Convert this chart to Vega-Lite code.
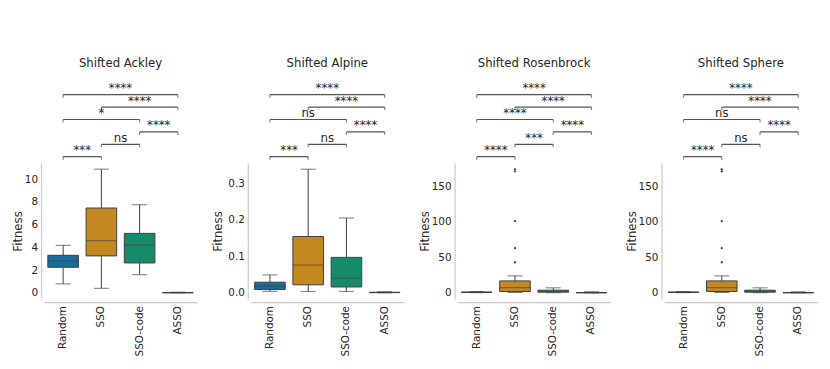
{
  "$schema": "https://vega.github.io/schema/vega-lite/v6.json",
  "background": "white",
  "padding": {"left": 12, "top": 58, "right": 5, "bottom": 5},
  "config": {
    "font": "DejaVu Sans",
    "view": {"stroke": null},
    "axis": {"grid": false, "ticks": false, "tickSize": 0, "labelOverlap": false, "domainColor": "#cccccc", "domainWidth": 1.25, "labelFontSize": 10.4, "titleFontSize": 11.7, "titleFontWeight": "normal", "labelColor": "#262626", "titleColor": "#262626", "labelFont": "DejaVu Sans", "titleFont": "DejaVu Sans"},
    "title": {"fontSize": 11.7, "fontWeight": "normal", "color": "#262626", "font": "DejaVu Sans"}
  },
  "datasets": {
    "boxes": [
      {"fn": "Shifted Ackley", "alg": "Random", "lower": 0.79, "q1": 2.25, "median": 2.81, "q3": 3.30, "upper": 4.18},
      {"fn": "Shifted Ackley", "alg": "SSO", "lower": 0.40, "q1": 3.25, "median": 4.59, "q3": 7.46, "upper": 10.88},
      {"fn": "Shifted Ackley", "alg": "SSO-code", "lower": 1.60, "q1": 2.63, "median": 4.21, "q3": 5.23, "upper": 7.75},
      {"fn": "Shifted Ackley", "alg": "ASSO", "lower": 0.0, "q1": 0.01, "median": 0.02, "q3": 0.03, "upper": 0.06},
      {"fn": "Shifted Alpine", "alg": "Random", "lower": 0.004, "q1": 0.009, "median": 0.018, "q3": 0.029, "upper": 0.049},
      {"fn": "Shifted Alpine", "alg": "SSO", "lower": 0.004, "q1": 0.022, "median": 0.076, "q3": 0.154, "upper": 0.338},
      {"fn": "Shifted Alpine", "alg": "SSO-code", "lower": 0.004, "q1": 0.016, "median": 0.040, "q3": 0.097, "upper": 0.2045},
      {"fn": "Shifted Alpine", "alg": "ASSO", "lower": 0.0, "q1": 0.0005, "median": 0.001, "q3": 0.0015, "upper": 0.003},
      {"fn": "Shifted Rosenbrock", "alg": "Random", "lower": 0.2, "q1": 0.5, "median": 0.8, "q3": 1.1, "upper": 1.8},
      {"fn": "Shifted Rosenbrock", "alg": "SSO", "lower": 0.5, "q1": 1.8, "median": 7.0, "q3": 16.8, "upper": 23.8},
      {"fn": "Shifted Rosenbrock", "alg": "SSO-code", "lower": 0.1, "q1": 0.9, "median": 2.0, "q3": 3.7, "upper": 7.0},
      {"fn": "Shifted Rosenbrock", "alg": "ASSO", "lower": 0.0, "q1": 0.1, "median": 0.2, "q3": 0.4, "upper": 1.5},
      {"fn": "Shifted Sphere", "alg": "Random", "lower": 0.2, "q1": 0.5, "median": 0.8, "q3": 1.1, "upper": 1.8},
      {"fn": "Shifted Sphere", "alg": "SSO", "lower": 0.5, "q1": 1.8, "median": 7.0, "q3": 16.8, "upper": 23.8},
      {"fn": "Shifted Sphere", "alg": "SSO-code", "lower": 0.1, "q1": 0.9, "median": 2.0, "q3": 3.7, "upper": 7.0},
      {"fn": "Shifted Sphere", "alg": "ASSO", "lower": 0.0, "q1": 0.1, "median": 0.2, "q3": 0.4, "upper": 1.5}
    ],
    "outliers": [
      {"fn": "Shifted Rosenbrock", "alg": "SSO", "value": 43},
      {"fn": "Shifted Rosenbrock", "alg": "SSO", "value": 63},
      {"fn": "Shifted Rosenbrock", "alg": "SSO", "value": 101},
      {"fn": "Shifted Rosenbrock", "alg": "SSO", "value": 171},
      {"fn": "Shifted Rosenbrock", "alg": "SSO", "value": 174},
      {"fn": "Shifted Sphere", "alg": "SSO", "value": 43},
      {"fn": "Shifted Sphere", "alg": "SSO", "value": 63},
      {"fn": "Shifted Sphere", "alg": "SSO", "value": 101},
      {"fn": "Shifted Sphere", "alg": "SSO", "value": 171},
      {"fn": "Shifted Sphere", "alg": "SSO", "value": 174}
    ],
    "brackets": [
      {"fn": "Shifted Ackley", "a": 0, "b": 1, "level": 1, "label": "***"},
      {"fn": "Shifted Ackley", "a": 1, "b": 2, "level": 2, "label": "ns"},
      {"fn": "Shifted Ackley", "a": 2, "b": 3, "level": 3, "label": "****"},
      {"fn": "Shifted Ackley", "a": 0, "b": 2, "level": 4, "label": "*"},
      {"fn": "Shifted Ackley", "a": 1, "b": 3, "level": 5, "label": "****"},
      {"fn": "Shifted Ackley", "a": 0, "b": 3, "level": 6, "label": "****"},
      {"fn": "Shifted Alpine", "a": 0, "b": 1, "level": 1, "label": "***"},
      {"fn": "Shifted Alpine", "a": 1, "b": 2, "level": 2, "label": "ns"},
      {"fn": "Shifted Alpine", "a": 2, "b": 3, "level": 3, "label": "****"},
      {"fn": "Shifted Alpine", "a": 0, "b": 2, "level": 4, "label": "ns"},
      {"fn": "Shifted Alpine", "a": 1, "b": 3, "level": 5, "label": "****"},
      {"fn": "Shifted Alpine", "a": 0, "b": 3, "level": 6, "label": "****"},
      {"fn": "Shifted Rosenbrock", "a": 0, "b": 1, "level": 1, "label": "****"},
      {"fn": "Shifted Rosenbrock", "a": 1, "b": 2, "level": 2, "label": "***"},
      {"fn": "Shifted Rosenbrock", "a": 2, "b": 3, "level": 3, "label": "****"},
      {"fn": "Shifted Rosenbrock", "a": 0, "b": 2, "level": 4, "label": "****"},
      {"fn": "Shifted Rosenbrock", "a": 1, "b": 3, "level": 5, "label": "****"},
      {"fn": "Shifted Rosenbrock", "a": 0, "b": 3, "level": 6, "label": "****"},
      {"fn": "Shifted Sphere", "a": 0, "b": 1, "level": 1, "label": "****"},
      {"fn": "Shifted Sphere", "a": 1, "b": 2, "level": 2, "label": "ns"},
      {"fn": "Shifted Sphere", "a": 2, "b": 3, "level": 3, "label": "****"},
      {"fn": "Shifted Sphere", "a": 0, "b": 2, "level": 4, "label": "ns"},
      {"fn": "Shifted Sphere", "a": 1, "b": 3, "level": 5, "label": "****"},
      {"fn": "Shifted Sphere", "a": 0, "b": 3, "level": 6, "label": "****"}
    ]
  },
  "spacing": 14.8,
  "hconcat": [
    {
      "spacing": 0,
      "vconcat": [
        {
          "title": {"text": "Shifted Ackley", "anchor": "middle", "frame": "group", "baseline": "alphabetic", "offset": 1},
          "width": 153, "height": 83,
          "data": {"name": "brackets"},
          "transform": [{"filter": {"field": "fn", "equal": "Shifted Ackley"}}, {"calculate": "(datum.a + datum.b) / 2", "as": "mid"}],
          "encoding": {"y": {"field": "level", "type": "quantitative", "scale": {"domain": [0.492, 7.185], "nice": false, "zero": false}, "axis": null}},
          "layer": [
            {"mark": {"type": "rule", "color": "#555555", "strokeWidth": 1.2}, "encoding": {"x": {"field": "a", "type": "quantitative", "scale": {"domain": [-0.5, 3.5], "nice": false, "zero": false}, "axis": null}, "x2": {"field": "b"}}},
            {"mark": {"type": "tick", "orient": "vertical", "size": 3, "thickness": 1.2, "yOffset": 1.5, "color": "#555555"}, "encoding": {"x": {"field": "a", "type": "quantitative"}}},
            {"mark": {"type": "tick", "orient": "vertical", "size": 3, "thickness": 1.2, "yOffset": 1.5, "color": "#555555"}, "encoding": {"x": {"field": "b", "type": "quantitative"}}},
            {"mark": {"type": "text", "baseline": "alphabetic", "dy": -2.5, "fontSize": 11.7, "color": "#262626"}, "encoding": {"x": {"field": "mid", "type": "quantitative"}, "text": {"field": "label"}}}
          ]
        },
        {
          "width": 153, "height": 136,
          "encoding": {"x": {"field": "alg", "type": "nominal", "sort": null, "scale": {"domain": ["Random", "SSO", "SSO-code", "ASSO"], "paddingInner": 0, "paddingOuter": 0}, "axis": {"title": null, "labelAngle": -90, "offset": 3, "labelPadding": 3.5, "labelOverlap": false}}},
          "layer": [
            {
              "data": {"name": "boxes"},
              "transform": [{"filter": {"field": "fn", "equal": "Shifted Ackley"}}],
              "layer": [
                {"mark": {"type": "rule", "color": "#404040", "strokeWidth": 1}, "encoding": {"y": {"field": "lower", "type": "quantitative", "title": "Fitness", "scale": {"domain": [-0.54, 11.42], "nice": false, "zero": false}, "axis": {"values": [0, 2, 4, 6, 8, 10], "tickCount": 12, "format": "d", "labelOverlap": false, "offset": 3, "labelPadding": 3.5, "minExtent": 16.7, "maxExtent": 16.7, "titlePadding": 1}}, "y2": {"field": "q1"}}},
                {"mark": {"type": "rule", "color": "#404040", "strokeWidth": 1}, "encoding": {"y": {"field": "q3", "type": "quantitative", "title": "Fitness"}, "y2": {"field": "upper"}}},
                {"mark": {"type": "tick", "size": 15, "thickness": 1, "color": "#404040"}, "encoding": {"y": {"field": "lower", "type": "quantitative", "title": "Fitness"}}},
                {"mark": {"type": "tick", "size": 15, "thickness": 1, "color": "#404040"}, "encoding": {"y": {"field": "upper", "type": "quantitative", "title": "Fitness"}}},
                {"mark": {"type": "bar", "width": {"band": 0.8}, "stroke": "#404040", "strokeWidth": 1}, "encoding": {"y": {"field": "q1", "type": "quantitative", "title": "Fitness"}, "y2": {"field": "q3"}, "color": {"field": "alg", "type": "nominal", "scale": {"domain": ["Random", "SSO", "SSO-code", "ASSO"], "range": ["#176d9c", "#c38820", "#168b6a", "#ba611b"]}, "legend": null}}},
                {"mark": {"type": "tick", "size": 30.6, "thickness": 1, "color": "#404040"}, "encoding": {"y": {"field": "median", "type": "quantitative", "title": "Fitness"}}}
              ]
            },
            {
              "data": {"name": "outliers"},
              "transform": [{"filter": {"field": "fn", "equal": "Shifted Ackley"}}],
              "mark": {"type": "point", "shape": "diamond", "filled": true, "size": 8, "color": "#404040", "opacity": 1},
              "encoding": {"y": {"field": "value", "type": "quantitative", "title": "Fitness"}}
            }
          ]
        }
      ]
    },
    {
      "spacing": 0,
      "vconcat": [
        {
          "title": {"text": "Shifted Alpine", "anchor": "middle", "frame": "group", "baseline": "alphabetic", "offset": 1},
          "width": 153, "height": 83,
          "data": {"name": "brackets"},
          "transform": [{"filter": {"field": "fn", "equal": "Shifted Alpine"}}, {"calculate": "(datum.a + datum.b) / 2", "as": "mid"}],
          "encoding": {"y": {"field": "level", "type": "quantitative", "scale": {"domain": [0.492, 7.185], "nice": false, "zero": false}, "axis": null}},
          "layer": [
            {"mark": {"type": "rule", "color": "#555555", "strokeWidth": 1.2}, "encoding": {"x": {"field": "a", "type": "quantitative", "scale": {"domain": [-0.5, 3.5], "nice": false, "zero": false}, "axis": null}, "x2": {"field": "b"}}},
            {"mark": {"type": "tick", "orient": "vertical", "size": 3, "thickness": 1.2, "yOffset": 1.5, "color": "#555555"}, "encoding": {"x": {"field": "a", "type": "quantitative"}}},
            {"mark": {"type": "tick", "orient": "vertical", "size": 3, "thickness": 1.2, "yOffset": 1.5, "color": "#555555"}, "encoding": {"x": {"field": "b", "type": "quantitative"}}},
            {"mark": {"type": "text", "baseline": "alphabetic", "dy": -2.5, "fontSize": 11.7, "color": "#262626"}, "encoding": {"x": {"field": "mid", "type": "quantitative"}, "text": {"field": "label"}}}
          ]
        },
        {
          "width": 153, "height": 136,
          "encoding": {"x": {"field": "alg", "type": "nominal", "sort": null, "scale": {"domain": ["Random", "SSO", "SSO-code", "ASSO"], "paddingInner": 0, "paddingOuter": 0}, "axis": {"title": null, "labelAngle": -90, "offset": 3, "labelPadding": 3.5, "labelOverlap": false}}},
          "layer": [
            {
              "data": {"name": "boxes"},
              "transform": [{"filter": {"field": "fn", "equal": "Shifted Alpine"}}],
              "layer": [
                {"mark": {"type": "rule", "color": "#404040", "strokeWidth": 1}, "encoding": {"y": {"field": "lower", "type": "quantitative", "title": "Fitness", "scale": {"domain": [-0.0169, 0.355], "nice": false, "zero": false}, "axis": {"values": [0, 0.1, 0.2, 0.3], "tickCount": 8, "format": ".1f", "labelOverlap": false, "offset": 3, "labelPadding": 3.5, "minExtent": 23.3, "maxExtent": 23.3, "titlePadding": 1}}, "y2": {"field": "q1"}}},
                {"mark": {"type": "rule", "color": "#404040", "strokeWidth": 1}, "encoding": {"y": {"field": "q3", "type": "quantitative", "title": "Fitness"}, "y2": {"field": "upper"}}},
                {"mark": {"type": "tick", "size": 15, "thickness": 1, "color": "#404040"}, "encoding": {"y": {"field": "lower", "type": "quantitative", "title": "Fitness"}}},
                {"mark": {"type": "tick", "size": 15, "thickness": 1, "color": "#404040"}, "encoding": {"y": {"field": "upper", "type": "quantitative", "title": "Fitness"}}},
                {"mark": {"type": "bar", "width": {"band": 0.8}, "stroke": "#404040", "strokeWidth": 1}, "encoding": {"y": {"field": "q1", "type": "quantitative", "title": "Fitness"}, "y2": {"field": "q3"}, "color": {"field": "alg", "type": "nominal", "scale": {"domain": ["Random", "SSO", "SSO-code", "ASSO"], "range": ["#176d9c", "#c38820", "#168b6a", "#ba611b"]}, "legend": null}}},
                {"mark": {"type": "tick", "size": 30.6, "thickness": 1, "color": "#404040"}, "encoding": {"y": {"field": "median", "type": "quantitative", "title": "Fitness"}}}
              ]
            },
            {
              "data": {"name": "outliers"},
              "transform": [{"filter": {"field": "fn", "equal": "Shifted Alpine"}}],
              "mark": {"type": "point", "shape": "diamond", "filled": true, "size": 8, "color": "#404040", "opacity": 1},
              "encoding": {"y": {"field": "value", "type": "quantitative", "title": "Fitness"}}
            }
          ]
        }
      ]
    },
    {
      "spacing": 0,
      "vconcat": [
        {
          "title": {"text": "Shifted Rosenbrock", "anchor": "middle", "frame": "group", "baseline": "alphabetic", "offset": 1},
          "width": 153, "height": 83,
          "data": {"name": "brackets"},
          "transform": [{"filter": {"field": "fn", "equal": "Shifted Rosenbrock"}}, {"calculate": "(datum.a + datum.b) / 2", "as": "mid"}],
          "encoding": {"y": {"field": "level", "type": "quantitative", "scale": {"domain": [0.492, 7.185], "nice": false, "zero": false}, "axis": null}},
          "layer": [
            {"mark": {"type": "rule", "color": "#555555", "strokeWidth": 1.2}, "encoding": {"x": {"field": "a", "type": "quantitative", "scale": {"domain": [-0.5, 3.5], "nice": false, "zero": false}, "axis": null}, "x2": {"field": "b"}}},
            {"mark": {"type": "tick", "orient": "vertical", "size": 3, "thickness": 1.2, "yOffset": 1.5, "color": "#555555"}, "encoding": {"x": {"field": "a", "type": "quantitative"}}},
            {"mark": {"type": "tick", "orient": "vertical", "size": 3, "thickness": 1.2, "yOffset": 1.5, "color": "#555555"}, "encoding": {"x": {"field": "b", "type": "quantitative"}}},
            {"mark": {"type": "text", "baseline": "alphabetic", "dy": -2.5, "fontSize": 11.7, "color": "#262626"}, "encoding": {"x": {"field": "mid", "type": "quantitative"}, "text": {"field": "label"}}}
          ]
        },
        {
          "width": 153, "height": 136,
          "encoding": {"x": {"field": "alg", "type": "nominal", "sort": null, "scale": {"domain": ["Random", "SSO", "SSO-code", "ASSO"], "paddingInner": 0, "paddingOuter": 0}, "axis": {"title": null, "labelAngle": -90, "offset": 3, "labelPadding": 3.5, "labelOverlap": false}}},
          "layer": [
            {
              "data": {"name": "boxes"},
              "transform": [{"filter": {"field": "fn", "equal": "Shifted Rosenbrock"}}],
              "layer": [
                {"mark": {"type": "rule", "color": "#404040", "strokeWidth": 1}, "encoding": {"y": {"field": "lower", "type": "quantitative", "title": "Fitness", "scale": {"domain": [-8.7, 182.7], "nice": false, "zero": false}, "axis": {"values": [0, 50, 100, 150], "tickCount": 8, "format": "d", "labelOverlap": false, "offset": 3, "labelPadding": 3.5, "minExtent": 23.3, "maxExtent": 23.3, "titlePadding": 1}}, "y2": {"field": "q1"}}},
                {"mark": {"type": "rule", "color": "#404040", "strokeWidth": 1}, "encoding": {"y": {"field": "q3", "type": "quantitative", "title": "Fitness"}, "y2": {"field": "upper"}}},
                {"mark": {"type": "tick", "size": 15, "thickness": 1, "color": "#404040"}, "encoding": {"y": {"field": "lower", "type": "quantitative", "title": "Fitness"}}},
                {"mark": {"type": "tick", "size": 15, "thickness": 1, "color": "#404040"}, "encoding": {"y": {"field": "upper", "type": "quantitative", "title": "Fitness"}}},
                {"mark": {"type": "bar", "width": {"band": 0.8}, "stroke": "#404040", "strokeWidth": 1}, "encoding": {"y": {"field": "q1", "type": "quantitative", "title": "Fitness"}, "y2": {"field": "q3"}, "color": {"field": "alg", "type": "nominal", "scale": {"domain": ["Random", "SSO", "SSO-code", "ASSO"], "range": ["#176d9c", "#c38820", "#168b6a", "#ba611b"]}, "legend": null}}},
                {"mark": {"type": "tick", "size": 30.6, "thickness": 1, "color": "#404040"}, "encoding": {"y": {"field": "median", "type": "quantitative", "title": "Fitness"}}}
              ]
            },
            {
              "data": {"name": "outliers"},
              "transform": [{"filter": {"field": "fn", "equal": "Shifted Rosenbrock"}}],
              "mark": {"type": "point", "shape": "diamond", "filled": true, "size": 8, "color": "#404040", "opacity": 1},
              "encoding": {"y": {"field": "value", "type": "quantitative", "title": "Fitness"}}
            }
          ]
        }
      ]
    },
    {
      "spacing": 0,
      "vconcat": [
        {
          "title": {"text": "Shifted Sphere", "anchor": "middle", "frame": "group", "baseline": "alphabetic", "offset": 1},
          "width": 153, "height": 83,
          "data": {"name": "brackets"},
          "transform": [{"filter": {"field": "fn", "equal": "Shifted Sphere"}}, {"calculate": "(datum.a + datum.b) / 2", "as": "mid"}],
          "encoding": {"y": {"field": "level", "type": "quantitative", "scale": {"domain": [0.492, 7.185], "nice": false, "zero": false}, "axis": null}},
          "layer": [
            {"mark": {"type": "rule", "color": "#555555", "strokeWidth": 1.2}, "encoding": {"x": {"field": "a", "type": "quantitative", "scale": {"domain": [-0.5, 3.5], "nice": false, "zero": false}, "axis": null}, "x2": {"field": "b"}}},
            {"mark": {"type": "tick", "orient": "vertical", "size": 3, "thickness": 1.2, "yOffset": 1.5, "color": "#555555"}, "encoding": {"x": {"field": "a", "type": "quantitative"}}},
            {"mark": {"type": "tick", "orient": "vertical", "size": 3, "thickness": 1.2, "yOffset": 1.5, "color": "#555555"}, "encoding": {"x": {"field": "b", "type": "quantitative"}}},
            {"mark": {"type": "text", "baseline": "alphabetic", "dy": -2.5, "fontSize": 11.7, "color": "#262626"}, "encoding": {"x": {"field": "mid", "type": "quantitative"}, "text": {"field": "label"}}}
          ]
        },
        {
          "width": 153, "height": 136,
          "encoding": {"x": {"field": "alg", "type": "nominal", "sort": null, "scale": {"domain": ["Random", "SSO", "SSO-code", "ASSO"], "paddingInner": 0, "paddingOuter": 0}, "axis": {"title": null, "labelAngle": -90, "offset": 3, "labelPadding": 3.5, "labelOverlap": false}}},
          "layer": [
            {
              "data": {"name": "boxes"},
              "transform": [{"filter": {"field": "fn", "equal": "Shifted Sphere"}}],
              "layer": [
                {"mark": {"type": "rule", "color": "#404040", "strokeWidth": 1}, "encoding": {"y": {"field": "lower", "type": "quantitative", "title": "Fitness", "scale": {"domain": [-8.7, 182.7], "nice": false, "zero": false}, "axis": {"values": [0, 50, 100, 150], "tickCount": 8, "format": "d", "labelOverlap": false, "offset": 3, "labelPadding": 3.5, "minExtent": 23.3, "maxExtent": 23.3, "titlePadding": 1}}, "y2": {"field": "q1"}}},
                {"mark": {"type": "rule", "color": "#404040", "strokeWidth": 1}, "encoding": {"y": {"field": "q3", "type": "quantitative", "title": "Fitness"}, "y2": {"field": "upper"}}},
                {"mark": {"type": "tick", "size": 15, "thickness": 1, "color": "#404040"}, "encoding": {"y": {"field": "lower", "type": "quantitative", "title": "Fitness"}}},
                {"mark": {"type": "tick", "size": 15, "thickness": 1, "color": "#404040"}, "encoding": {"y": {"field": "upper", "type": "quantitative", "title": "Fitness"}}},
                {"mark": {"type": "bar", "width": {"band": 0.8}, "stroke": "#404040", "strokeWidth": 1}, "encoding": {"y": {"field": "q1", "type": "quantitative", "title": "Fitness"}, "y2": {"field": "q3"}, "color": {"field": "alg", "type": "nominal", "scale": {"domain": ["Random", "SSO", "SSO-code", "ASSO"], "range": ["#176d9c", "#c38820", "#168b6a", "#ba611b"]}, "legend": null}}},
                {"mark": {"type": "tick", "size": 30.6, "thickness": 1, "color": "#404040"}, "encoding": {"y": {"field": "median", "type": "quantitative", "title": "Fitness"}}}
              ]
            },
            {
              "data": {"name": "outliers"},
              "transform": [{"filter": {"field": "fn", "equal": "Shifted Sphere"}}],
              "mark": {"type": "point", "shape": "diamond", "filled": true, "size": 8, "color": "#404040", "opacity": 1},
              "encoding": {"y": {"field": "value", "type": "quantitative", "title": "Fitness"}}
            }
          ]
        }
      ]
    }
  ]
}
